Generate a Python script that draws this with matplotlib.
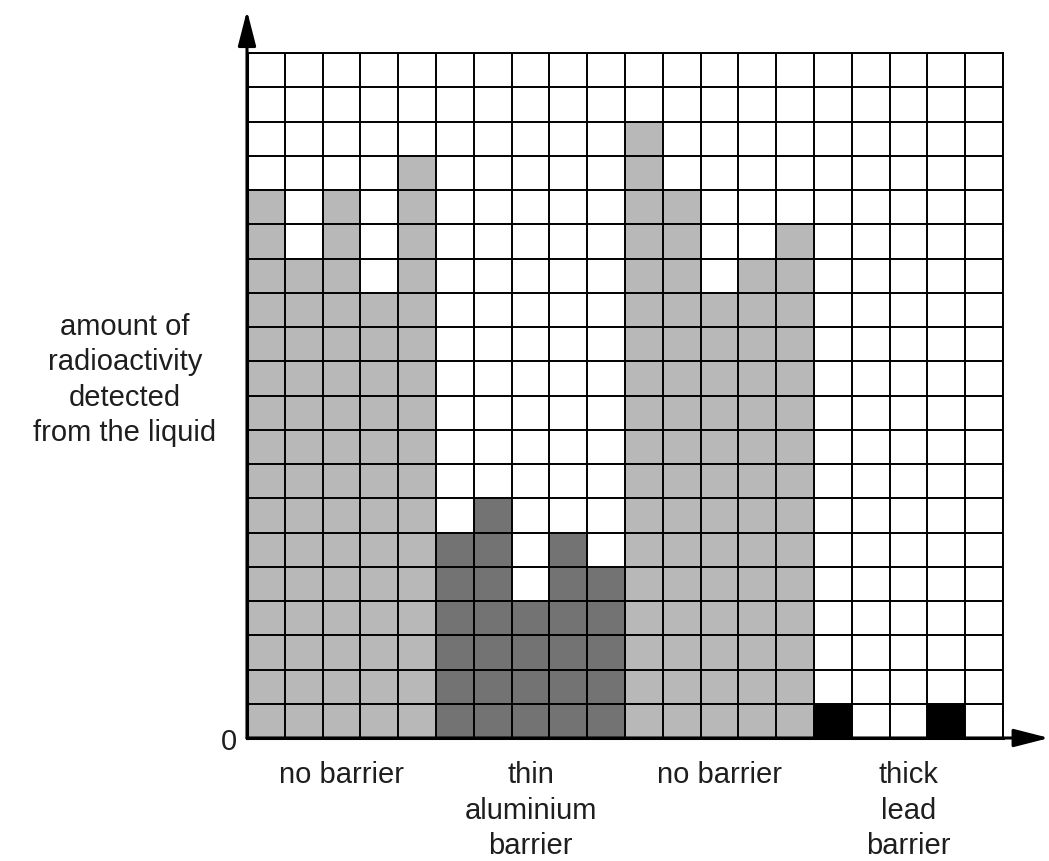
import matplotlib.pyplot as plt
import numpy as np

plt.rcParams['font.family'] = ['Liberation Sans', 'DejaVu Sans']

# counts per time slot (20 slots, grid 20 high)
light_counts = [16, 14, 16, 13, 17]
alu_counts = [6, 7, 4, 6, 5]
light_counts2 = [18, 16, 13, 14, 15]
lead_counts = [1, 0, 0, 1, 0]
group_labels = ['no barrier', 'thin\naluminium\nbarrier', 'no barrier', 'thick\nlead\nbarrier']
colors = ['#b8b8b8', '#737373', '#b8b8b8', '#000000']
n_rows = 20

groups = [light_counts, alu_counts, light_counts2, lead_counts]
txt_color = '#1e1e1e'

fig = plt.figure(figsize=(10.49, 8.62), dpi=100)
ax = fig.add_axes([247 / 1049, 123 / 862, 756 / 1049, 685 / 862])

x0 = 0
for vals, c in zip(groups, colors):
    xs = np.arange(x0, x0 + len(vals))
    ax.bar(xs, vals, width=1, align='edge', color=c, edgecolor='none', zorder=1)
    x0 += len(vals)

ax.set_xlim(0, x0)
ax.set_ylim(0, n_rows)
ax.set_xticks(np.arange(0, x0 + 1))
ax.set_yticks(np.arange(0, n_rows + 1))
ax.grid(True, color='black', linewidth=1.4, zorder=2)
ax.set_axisbelow(False)
ax.tick_params(length=0, labelbottom=False, labelleft=False)
for s in ax.spines.values():
    s.set_linewidth(1.4)
ax.spines['left'].set_linewidth(2.2)
ax.spines['bottom'].set_linewidth(2.2)

# axis arrows
arrow = dict(arrowstyle='-|>,head_length=2.15,head_width=0.55', color='black', lw=2.2,
             shrinkA=0, shrinkB=0)
ax.annotate('', xy=(0, 1.062), xytext=(0, 0), xycoords='axes fraction',
            arrowprops=arrow, annotation_clip=False)
ax.annotate('', xy=(1.061, 0), xytext=(0, 0), xycoords='axes fraction',
            arrowprops=arrow, annotation_clip=False)

ax.text(-0.013, -0.005, '0', transform=ax.transAxes, ha='right', va='center', fontsize=21,
        color=txt_color)

x0 = 0
for vals, lab in zip(groups, group_labels):
    ax.text(x0 + len(vals) / 2, -0.65, lab, ha='center', va='top', fontsize=21,
            linespacing=1.33, color=txt_color)
    x0 += len(vals)

fig.text(125 / 1049, 1 - 380 / 862, 'amount of\nradioactivity\ndetected\nfrom the liquid',
         ha='center', va='center', fontsize=21, linespacing=1.33, color=txt_color)

fig.savefig('out.png', dpi=100)
